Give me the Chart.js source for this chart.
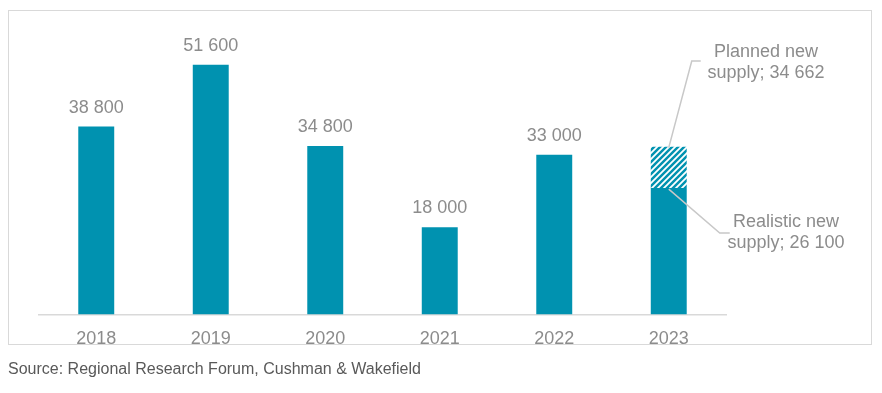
<!DOCTYPE html>
<html>
<head>
<meta charset="utf-8">
<script src="https://cdn.jsdelivr.net/npm/chart.js@4"></script>
<style>
  html, body { margin: 0; padding: 0; background: #fff; }
  #wrap { position: relative; width: 882px; height: 393px; }
</style>
</head>
<body>
<div id="wrap"><canvas id="chartSupply" width="882" height="393"></canvas></div>
<script>
// data
const years = ["2018", "2019", "2020", "2021", "2022", "2023"];
const supply = [38800, 51600, 34800, 18000, 33000, 26100];
const planned2023 = 34662;
const plannedExtra = [0, 0, 0, 0, 0, planned2023 - supply[5]];
const calloutPlanned = ["Planned new", "supply; 34 662"];
const calloutRealistic = ["Realistic new", "supply; 26 100"];
const sourceText = "Source: Regional Research Forum, Cushman & Wakefield";

const teal = "#0092b0";
const grey = "#8c8c8c";
const lineGrey = "#c8c8c8";
const fontFam = "'Liberation Sans', Arial, sans-serif";

// pola garis miring untuk planned supply
const makeHatch = () => {
    const c = document.createElement("canvas");
    c.width = 6; c.height = 6;
    const g = c.getContext("2d");
    g.fillStyle = teal;
    g.fillRect(0, 0, 6, 6);
    g.strokeStyle = "#ffffff";
    g.lineWidth = 1.8;
    g.beginPath();
    g.moveTo(-1, 7); g.lineTo(7, -1);
    g.moveTo(-4, 4); g.lineTo(4, -4);
    g.moveTo(2, 10); g.lineTo(10, 2);
    g.stroke();
    return g.createPattern(c, "repeat");
};

const fmt = v => String(v).replace(/\B(?=(\d{3})+(?!\d))/g, " ");

const extras = {
    id: "extras",
    afterDraw(chart) {
        const ctx = chart.ctx;
        const meta0 = chart.getDatasetMeta(0);
        const meta1 = chart.getDatasetMeta(1);
        ctx.save();
        // frame
        ctx.strokeStyle = "#d9d9d9";
        ctx.lineWidth = 1;
        ctx.strokeRect(8.5, 10.5, 863, 334);

        // value labels
        ctx.fillStyle = grey;
        ctx.font = "18px " + fontFam;
        ctx.textAlign = "center";
        ctx.textBaseline = "middle";
        for (let i = 0; i < 5; i++) {
            const bar = meta0.data[i];
            ctx.fillText(fmt(supply[i]), bar.x, bar.y - 19);
        }

        // callouts
        const b0 = meta0.data[5];
        const b1 = meta1.data[5];
        ctx.strokeStyle = lineGrey;
        ctx.lineWidth = 1.5;
        ctx.beginPath();
        ctx.moveTo(b1.x, b1.y + 1);
        ctx.lineTo(b1.x + 23, 61);
        ctx.lineTo(b1.x + 32, 61);
        ctx.stroke();
        ctx.beginPath();
        ctx.moveTo(b0.x, b0.y + 1);
        ctx.lineTo(b0.x + 51, 233);
        ctx.lineTo(b0.x + 61, 233);
        ctx.stroke();

        ctx.fillStyle = grey;
        ctx.fillText(calloutPlanned[0], 766, 52);
        ctx.fillText(calloutPlanned[1], 766, 73);
        ctx.fillText(calloutRealistic[0], 786, 222);
        ctx.fillText(calloutRealistic[1], 786, 243);

        // source
        ctx.fillStyle = "#595959";
        ctx.font = "16px " + fontFam;
        ctx.textAlign = "left";
        ctx.fillText(sourceText, 8, 370);
        ctx.restore();
    }
};

const canvas = document.getElementById("chartSupply");
new Chart(canvas.getContext("2d"), {
    type: "bar",
    data: {
        labels: years,
        datasets: [
            { label: "Realistic new supply", data: supply, backgroundColor: teal,
              categoryPercentage: 1, barPercentage: 0.314 },
            { label: "Planned new supply", data: plannedExtra, backgroundColor: makeHatch(),
              categoryPercentage: 1, barPercentage: 0.314 }
        ]
    },
    options: {
        responsive: false,
        animation: false,
        layout: { padding: { left: 39, right: 156, top: 24, bottom: 37 } },
        scales: {
            x: {
                stacked: true,
                grid: { display: false },
                border: { color: "#d9d9d9", width: 1.5 },
                ticks: { color: grey, font: { size: 18, family: fontFam }, padding: 6 }
            },
            y: {
                stacked: true,
                display: false,
                min: 0,
                max: 60000
            }
        },
        plugins: {
            legend: { display: false },
            tooltip: { enabled: false }
        }
    },
    plugins: [extras]
});
</script>
</body>
</html>
